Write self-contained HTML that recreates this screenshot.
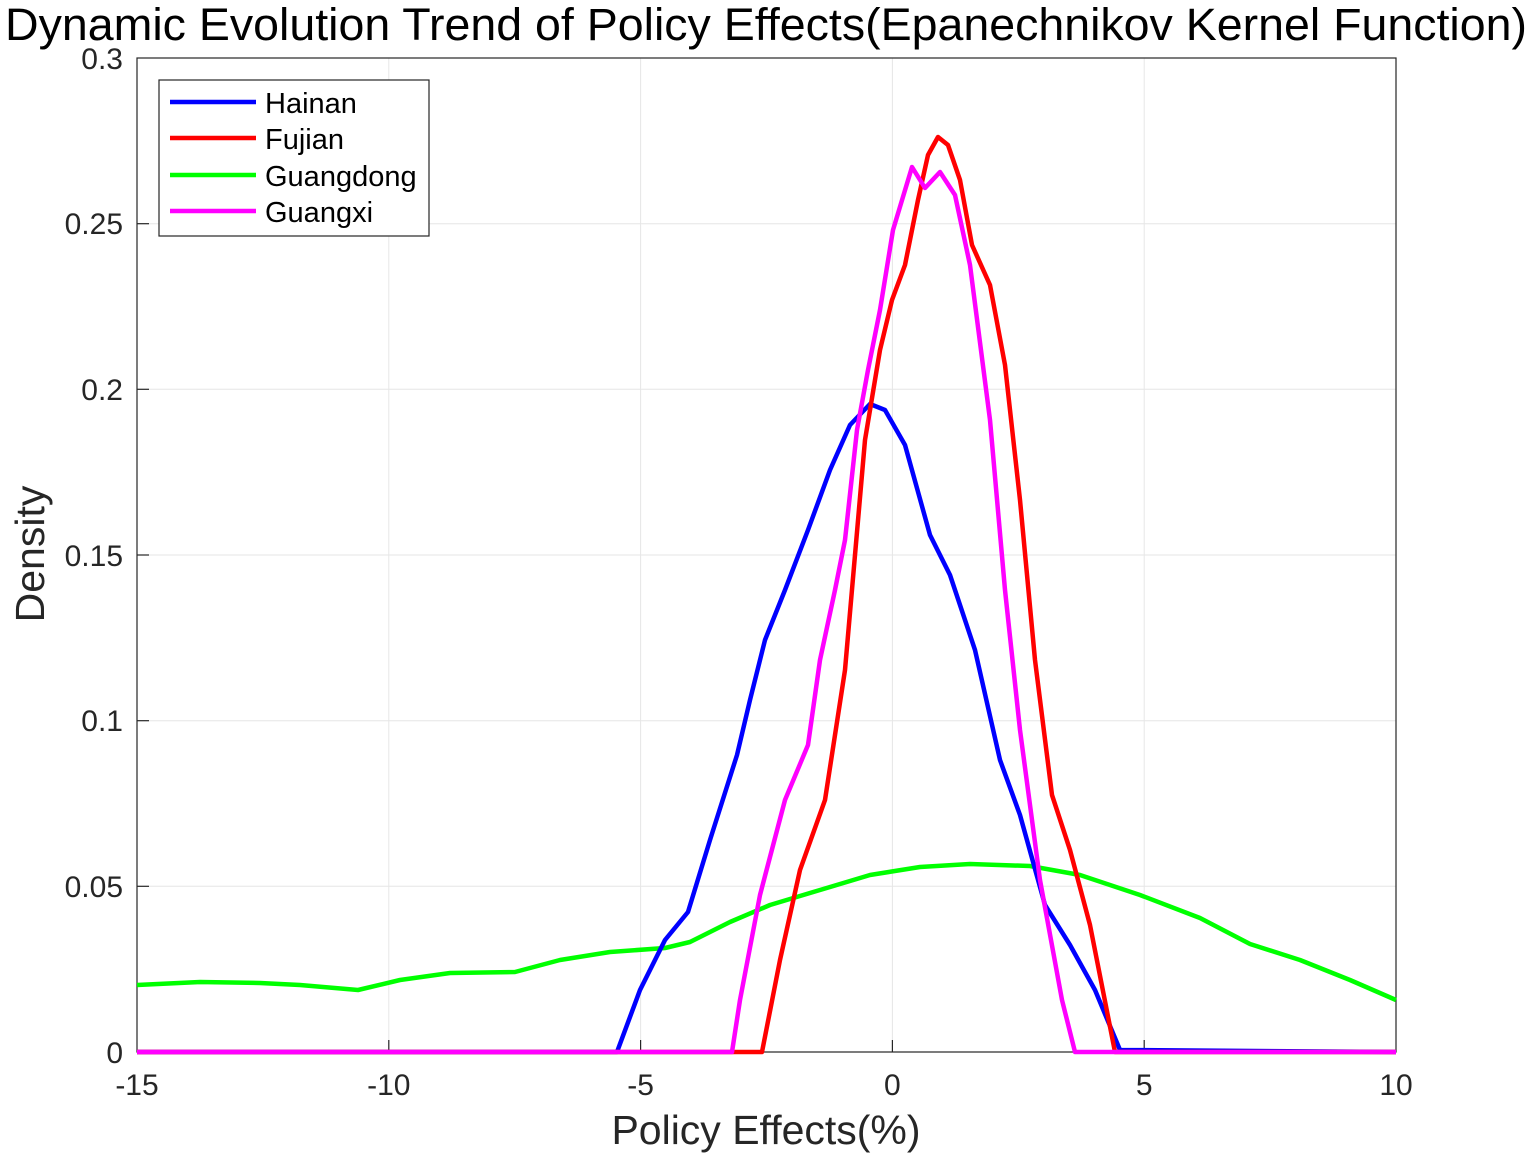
<!DOCTYPE html>
<html><head><meta charset="utf-8"><style>
html,body{margin:0;padding:0;background:#fff;}
svg{display:block;font-family:"Liberation Sans",sans-serif;}
</style></head><body>
<svg width="1533" height="1157" viewBox="0 0 1533 1157">
<rect width="1533" height="1157" fill="#fff"/>
<g stroke="#e6e6e6" stroke-width="1">
<line x1="388.8" y1="58" x2="388.8" y2="1052"/>
<line x1="640.6" y1="58" x2="640.6" y2="1052"/>
<line x1="892.4" y1="58" x2="892.4" y2="1052"/>
<line x1="1144.2" y1="58" x2="1144.2" y2="1052"/>
<line x1="137" y1="886.3" x2="1396" y2="886.3"/>
<line x1="137" y1="720.7" x2="1396" y2="720.7"/>
<line x1="137" y1="555" x2="1396" y2="555"/>
<line x1="137" y1="389.3" x2="1396" y2="389.3"/>
<line x1="137" y1="223.7" x2="1396" y2="223.7"/>
</g>
<rect x="137" y="58" width="1259" height="994" fill="none" stroke="#262626" stroke-width="1.2"/>
<g stroke="#262626" stroke-width="1.2">
<line x1="388.8" y1="1052" x2="388.8" y2="1040"/><line x1="640.6" y1="1052" x2="640.6" y2="1040"/>
<line x1="892.4" y1="1052" x2="892.4" y2="1040"/><line x1="1144.2" y1="1052" x2="1144.2" y2="1040"/>
<line x1="137" y1="886.3" x2="149" y2="886.3"/><line x1="137" y1="720.7" x2="149" y2="720.7"/>
<line x1="137" y1="555" x2="149" y2="555"/><line x1="137" y1="389.3" x2="149" y2="389.3"/>
<line x1="137" y1="223.7" x2="149" y2="223.7"/>
</g>
<g fill="none" stroke-width="4.5" stroke-linejoin="round">
<polyline stroke="#00ff00" points="137,985 200,982 260,983 300,985 358,990 400,980 450,973 515,972 560,960 610,952 665,948 690,942 730,922 770,905 820,890 870,875 920,867 970,864 1030,866 1080,875 1140,895 1200,918 1250,944 1300,960 1350,980 1396,1000"/>
<polyline stroke="#0000ff" points="137,1052 617,1052 640,990 665,940 688,912 710,840 737,755 750,700 765,640 785,590 808,530 830,470 850,425 870,404 885,410 905,445 930,535 950,575 975,650 1000,760 1020,815 1045,905 1070,945 1095,990 1120,1050 1396,1052"/>
<polyline stroke="#ff0000" points="137,1052 762,1052 780,960 800,870 825,800 845,670 865,440 880,350 892,300 905,265 918,200 928,155 938,137 948,145 960,180 972,245 990,285 1005,365 1020,500 1035,660 1052,795 1070,850 1090,925 1115,1052 1396,1052"/>
<polyline stroke="#ff00ff" points="137,1052 732,1052 740,1000 760,895 785,800 808,745 820,660 835,590 845,540 857,430 868,370 880,310 893,230 912,167 925,188 940,172 955,195 970,265 990,420 1005,590 1020,730 1040,880 1062,1000 1075,1052 1396,1052"/>
</g>
<g font-size="30" fill="#262626" text-anchor="middle">
<text x="137" y="1095">-15</text><text x="388.8" y="1095">-10</text><text x="640.6" y="1095">-5</text>
<text x="892.4" y="1095">0</text><text x="1144.2" y="1095">5</text><text x="1396" y="1095">10</text>
</g>
<g font-size="30" fill="#262626" text-anchor="end">
<text x="123" y="1063">0</text><text x="123" y="897">0.05</text><text x="123" y="731">0.1</text>
<text x="123" y="566">0.15</text><text x="123" y="400">0.2</text><text x="123" y="234">0.25</text><text x="123" y="69">0.3</text>
</g>
<text x="766" y="1144" font-size="41" text-anchor="middle" fill="#262626">Policy Effects(%)</text>
<text transform="translate(44,554) rotate(-90)" font-size="41" text-anchor="middle" fill="#262626">Density</text>
<text x="5" y="40" font-size="45" fill="#000" textLength="1522" lengthAdjust="spacingAndGlyphs">Dynamic Evolution Trend of Policy Effects(Epanechnikov Kernel Function)</text>
<rect x="159" y="80" width="270" height="156" fill="#fff" stroke="#262626" stroke-width="1.2"/>
<g stroke-width="4.5">
<line x1="170" y1="102" x2="256" y2="102" stroke="#0000ff"/>
<line x1="170" y1="138" x2="256" y2="138" stroke="#ff0000"/>
<line x1="170" y1="175" x2="256" y2="175" stroke="#00ff00"/>
<line x1="170" y1="211" x2="256" y2="211" stroke="#ff00ff"/>
</g>
<g font-size="29" fill="#000">
<text x="265" y="113">Hainan</text><text x="265" y="149">Fujian</text>
<text x="265" y="186">Guangdong</text><text x="265" y="222">Guangxi</text>
</g>
</svg>
</body></html>
